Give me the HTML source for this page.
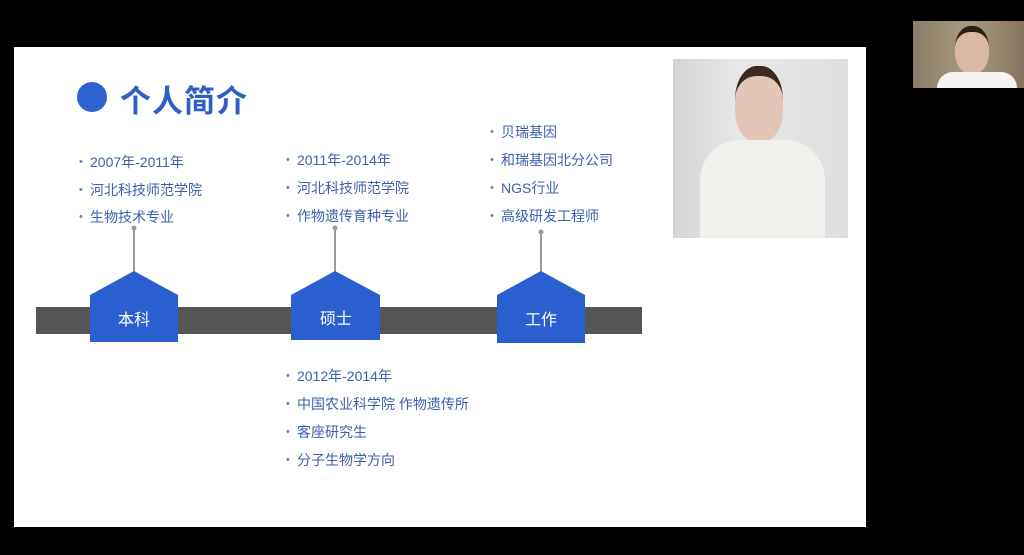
<!DOCTYPE html>
<html><head><meta charset="utf-8"><style>
body{margin:0;width:1024px;height:555px;background:#000;position:relative;overflow:hidden;font-family:"Liberation Sans","Noto Sans CJK SC",sans-serif}
.slide{position:absolute;left:14px;top:47px;width:852px;height:480px;background:#fff}
.t{position:absolute;color:#3d5fae;font-size:14px;white-space:nowrap;line-height:16px}
.t:before{content:"•";position:absolute;left:-11px;color:#6a7fb5;font-size:11px}
.a{position:absolute}
</style></head><body>
<div class="slide"></div>
<div class="a" style="left:77px;top:82px;width:30px;height:30px;border-radius:50%;background:#2d63cf"></div>
<div class="a" style="left:120px;top:76px;font-size:31px;font-weight:bold;color:#2d5fc4;letter-spacing:1px">个人简介</div>
<div class="a" style="left:673px;top:59px;width:175px;height:179px;background:linear-gradient(90deg,#d4d4d4,#e8e8e8 40%,#dedede)"></div>
<div class="a" style="left:735px;top:66px;width:48px;height:65px;border-radius:45% 45% 40% 40%;background:#e2c7b8;border-top:10px solid #3a2a22"></div>
<div class="a" style="left:700px;top:140px;width:125px;height:98px;border-radius:40px 40px 0 0;background:#f2f0ec"></div>
<div class="a" style="left:913px;top:21px;width:111px;height:67px;background:linear-gradient(90deg,#8a7c66,#a89a80 50%,#857560)"></div>
<div class="a" style="left:955px;top:26px;width:34px;height:42px;border-radius:45%;background:#d9b9a6;border-top:6px solid #2a201a"></div>
<div class="a" style="left:937px;top:72px;width:80px;height:16px;border-radius:20px 20px 0 0;background:#f4f3f0"></div>
<svg class="a" style="left:0;top:0" width="1024" height="555">
<rect x="36" y="307" width="606" height="27" fill="#555"/>
<g stroke="#999" stroke-width="2"><line x1="134" y1="228" x2="134" y2="272"/><line x1="335" y1="228" x2="335" y2="272"/><line x1="541" y1="232" x2="541" y2="272"/></g>
<g fill="#999"><circle cx="134" cy="228" r="2.5"/><circle cx="335" cy="228" r="2.5"/><circle cx="541" cy="232" r="2.5"/></g>
<g fill="#2a5fd0">
<polygon points="90,295 134,271 178,295 178,342 90,342"/>
<polygon points="291,295 335,271 380,295 380,340 291,340"/>
<polygon points="497,295 541,271 585,295 585,343 497,343"/>
</g>
<g fill="#fff" font-size="16" text-anchor="middle" font-family="Liberation Sans,Noto Sans CJK SC,sans-serif">
<text x="134" y="325">本科</text><text x="336" y="324">硕士</text><text x="541" y="325">工作</text></g>
</svg>
<div class="t" style="left:90px;top:154px">2007年-2011年</div>
<div class="t" style="left:90px;top:182px">河北科技师范学院</div>
<div class="t" style="left:90px;top:209px">生物技术专业</div>
<div class="t" style="left:297px;top:152px">2011年-2014年</div>
<div class="t" style="left:297px;top:180px">河北科技师范学院</div>
<div class="t" style="left:297px;top:208px">作物遗传育种专业</div>
<div class="t" style="left:501px;top:124px">贝瑞基因</div>
<div class="t" style="left:501px;top:152px">和瑞基因北分公司</div>
<div class="t" style="left:501px;top:180px">NGS行业</div>
<div class="t" style="left:501px;top:208px">高级研发工程师</div>
<div class="t" style="left:297px;top:368px">2012年-2014年</div>
<div class="t" style="left:297px;top:396px">中国农业科学院 作物遗传所</div>
<div class="t" style="left:297px;top:424px">客座研究生</div>
<div class="t" style="left:297px;top:452px">分子生物学方向</div>
</body></html>
